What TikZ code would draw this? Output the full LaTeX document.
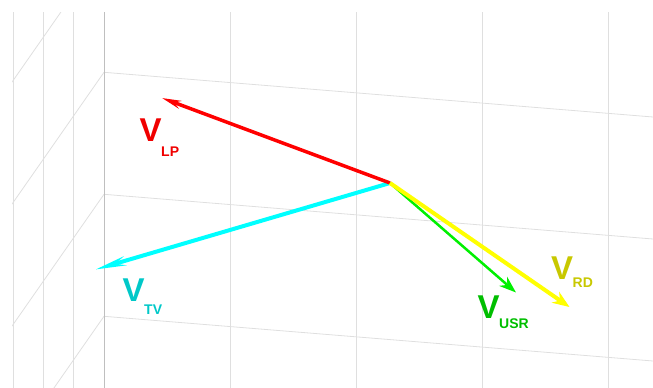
\documentclass[tikz,border=0pt]{standalone}
\usepackage{fontspec}
\newfontfamily\labfont{Liberation Sans}
\usetikzlibrary{arrows.meta}

\definecolor{vred}{RGB}{255,0,0}
\definecolor{vcyan}{RGB}{0,255,255}
\definecolor{vgreen}{RGB}{0,240,0}
\definecolor{vyellow}{RGB}{255,255,0}
\definecolor{lpred}{RGB}{240,0,0}
\definecolor{tvcyan}{RGB}{0,200,200}
\definecolor{usrgreen}{RGB}{0,190,0}
\definecolor{rdyellow}{RGB}{200,200,0}

% big V with a lowered index
\newcommand{\veclabel}[2]{{\fontsize{33}{33}\selectfont V}\kern-0.5pt\raisebox{-#2}{\fontsize{14}{14}\selectfont #1}}

\begin{document}
\begin{tikzpicture}[
    x=1pt, y=-1pt,
    gridline/.style={draw=gray!25, line width=0.8pt},
    edgeline/.style={draw=gray!50, line width=0.8pt},
    vec/.style={line width=3.5pt},
    vlabel/.style={inner sep=0pt, anchor=base west, font=\labfont\bfseries}
]

\useasboundingbox (0,0) rectangle (653,388);

% Perspective grid - back wall and left wall
\begin{scope}
    \clip (12,12) rectangle (653,388);
    % left wall verticals
    \draw[gridline] (13.3,12) -- (13.3,388);
    \draw[gridline] (43.3,12) -- (43.3,388);
    \draw[gridline] (73.3,12) -- (73.3,388);
    % back wall verticals
    \draw[gridline] (230,12) -- (230,388);
    \draw[gridline] (356.5,12) -- (356.5,388);
    \draw[gridline] (482.3,12) -- (482.3,388);
    \draw[gridline] (608.5,12) -- (608.5,388);
    % back wall rows
    \draw[gridline] (104,72.3) -- (653,117);
    \draw[gridline] (104,194.3) -- (653,239);
    \draw[gridline] (104,316.3) -- (653,361);
    % left wall rows
    \draw[gridline] (104,-49.7) -- (12,82.1);
    \draw[gridline] (104,72.3) -- (12,204.1);
    \draw[gridline] (104,194.3) -- (12,326.1);
    \draw[gridline] (104,316.3) -- (12,448.1);
    % corner edge
    \draw[edgeline] (104.2,12) -- (104.2,388);
\end{scope}

% Vector end points
\coordinate (origin) at (390,183);
\coordinate (lp tip) at (162,98);
\coordinate (tv tip) at (95.5,269.5);
\coordinate (usr tip) at (516,292.5);
\coordinate (rd tip) at (569.5,307);

% Vectors
\draw[vec, draw=vcyan, line width=4pt, -{Stealth[length=30pt, width=9pt]}] (origin) -- (tv tip);
\draw[vec, draw=vred, -{Stealth[length=19pt, width=8pt]}] (origin) -- (lp tip);
\draw[vec, draw=vgreen, line width=2.5pt, -{Stealth[length=17pt, width=12pt]}] (origin) -- (usr tip);
\draw[vec, draw=vyellow, line width=4pt, -{Stealth[length=17pt, width=13pt]}] (origin) -- (rd tip);

% Labels
\node[vlabel, text=lpred] (lp label) at (139.5,141) {\veclabel{LP}{15pt}};
\node[vlabel, text=tvcyan] (tv label) at (122.5,301.7) {\veclabel{TV}{12.5pt}};
\node[vlabel, text=usrgreen] (usr label) at (477.5,318.3) {\veclabel{USR}{10pt}};
\node[vlabel, text=rdyellow] (rd label) at (551,279.3) {\veclabel{RD}{8pt}};

\end{tikzpicture}
\end{document}
